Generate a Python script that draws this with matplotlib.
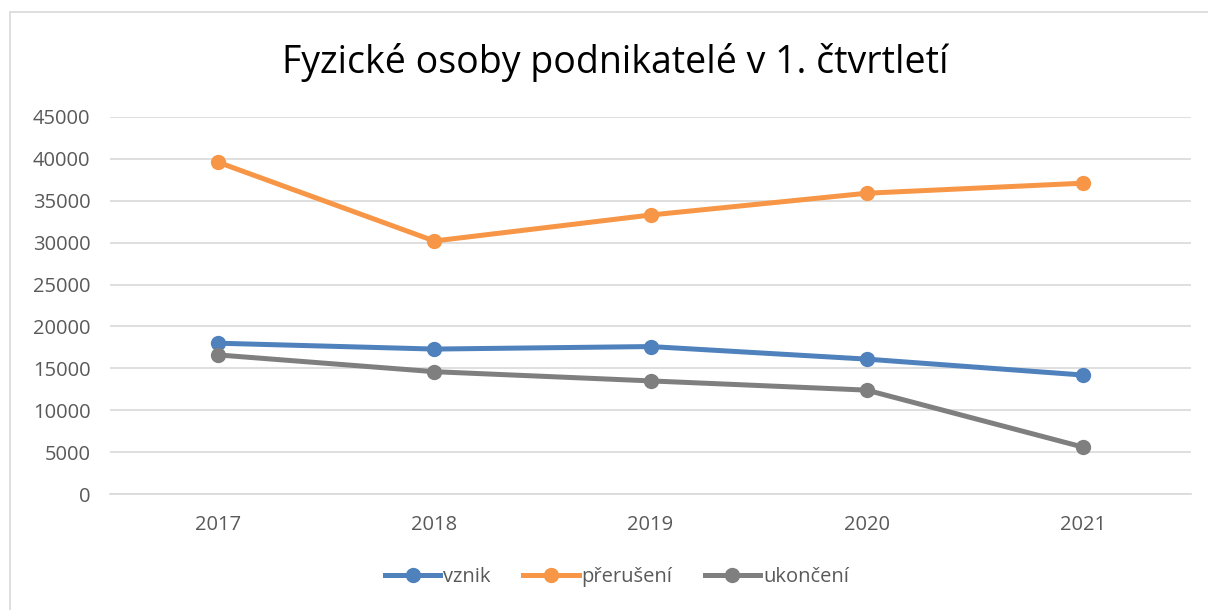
import matplotlib
matplotlib.use("Agg")
import matplotlib.pyplot as plt
from matplotlib.lines import Line2D
from matplotlib.patches import Rectangle

plt.rcParams['font.family'] = ['Open Sans', 'DejaVu Sans']

years = ["2017", "2018", "2019", "2020", "2021"]
vznik = [18000, 17300, 17600, 16100, 14200]
preruseni = [39600, 30200, 33300, 35900, 37100]
ukonceni = [16600, 14600, 13500, 12400, 5600]
yticks = [0, 5000, 10000, 15000, 20000, 25000, 30000, 35000, 40000, 45000]
title = "Fyzické osoby podnikatelé v 1. čtvrtletí"

series = [("vznik", vznik, "#4F81BD"),
          ("přerušení", preruseni, "#F79646"),
          ("ukončení", ukonceni, "#7F7F7F")]

fig = plt.figure(figsize=(12.08, 6.10), dpi=100)
fig.patch.set_facecolor("white")
# chart border (left/top visible)
fig.add_artist(Rectangle((10/1208, -0.1), 1.2, (610-12)/610 + 0.1,
                         transform=fig.transFigure, fill=False,
                         edgecolor="#d9d9d9", linewidth=1.2))

ax = fig.add_axes([110/1208, 1-494/610, (1191-110)/1208, (494-117)/610])
x = list(range(len(years)))
for name, vals, col in series:
    ax.plot(x, vals, color=col, linewidth=3.6, marker="o", markersize=10,
            solid_capstyle="round", label=name, zorder=3)

ax.set_xlim(-0.5, len(years) - 0.5)
ax.set_ylim(0, 45000)
ax.set_yticks(yticks)
ax.set_yticklabels([str(v) for v in yticks])
ax.set_xticks(x)
ax.set_xticklabels(years)
ax.grid(axis="y", color="#d9d9d9", linewidth=1.2, zorder=0)
ax.set_axisbelow(True)
for s in ["top", "right", "left"]:
    ax.spines[s].set_visible(False)
ax.spines["bottom"].set_color("#d9d9d9")
ax.spines["bottom"].set_linewidth(1.2)
ax.tick_params(axis="both", length=0, labelsize=14.5, labelcolor="#595959")
ax.tick_params(axis="y", pad=14)
ax.tick_params(axis="x", pad=15)

fig.text(615/1208, 1-62/610, title, ha="center", va="center",
         fontsize=27, color="black")

handles = [Line2D([0], [0], color=c, linewidth=3.6, marker="o", markersize=10)
           for _, _, c in series]
leg = fig.legend(handles, [n for n, _, _ in series], loc="center",
                 bbox_to_anchor=(617/1208, 1-577/610), ncol=3, frameon=False,
                 fontsize=14.5, handlelength=2.75, handletextpad=0.15,
                 columnspacing=1.6)
for t in leg.get_texts():
    t.set_color("#595959")

fig.savefig("out.png", dpi=100, facecolor="white")
